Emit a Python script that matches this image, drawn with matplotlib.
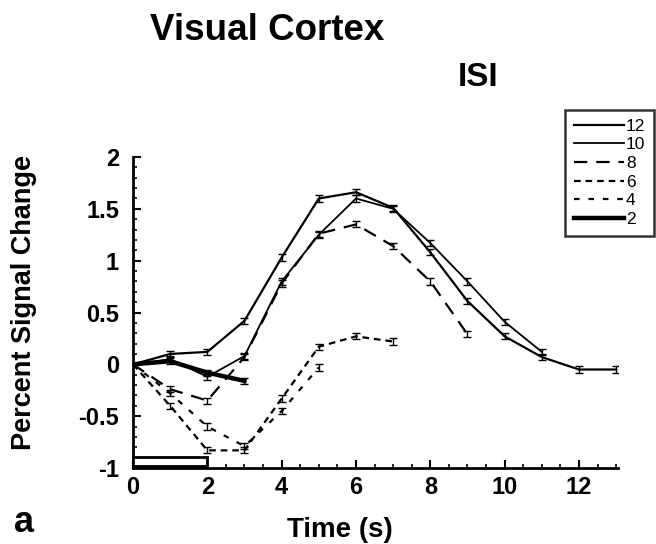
import matplotlib
matplotlib.use("Agg")
import matplotlib.pyplot as plt
from matplotlib.patches import Rectangle
from matplotlib.lines import Line2D
import numpy as np

plt.rcParams['font.family'] = ['Liberation Sans', 'DejaVu Sans']

# ---- data ----
isi_labels = ["12", "10", "8", "6", "4", "2"]
t12 = list(range(0, 14))
isi12 = [0.0, 0.10, 0.12, 0.42, 1.03, 1.60, 1.66, 1.51, 1.08, 0.61, 0.27, 0.07, -0.05, -0.05]
t10 = list(range(0, 12))
isi10 = [0.0, 0.05, -0.12, 0.08, 0.80, 1.25, 1.60, 1.50, 1.17, 0.80, 0.41, 0.12]
t8 = list(range(0, 10))
isi8 = [0.0, -0.24, -0.35, 0.07, 0.78, 1.26, 1.35, 1.14, 0.80, 0.29]
t6 = list(range(0, 8))
isi6 = [0.0, -0.40, -0.83, -0.83, -0.33, 0.17, 0.27, 0.22]
t4 = list(range(0, 6))
isi4 = [0.0, -0.28, -0.60, -0.79, -0.45, -0.03]
t2 = list(range(0, 4))
isi2 = [0.0, 0.03, -0.08, -0.16]
err = 0.03

styles = [
    dict(lw=1.6, ls='-'),
    dict(lw=1.3, ls='-'),
    dict(lw=1.6, ls=(0, (6, 4))),
    dict(lw=1.6, ls=(0, (3, 2.2))),
    dict(lw=1.6, ls=(0, (2.5, 4))),
    dict(lw=3.2, ls='-'),
]
series = [(t12, isi12), (t10, isi10), (t8, isi8), (t6, isi6), (t4, isi4), (t2, isi2)]

fig = plt.figure(figsize=(6.56, 5.44), dpi=100)
ax = fig.add_axes([133/656, 1-468/544, (618-133)/656, (468-157)/544])

handles = []
for (t, y), st, lab in zip(series, styles, isi_labels):
    yerr = [0] + [err] * (len(y) - 1)
    ax.errorbar(t, y, yerr=yerr, color='black', capsize=3, elinewidth=1.0,
                capthick=1.0, **st)
    handles.append(Line2D([], [], color='black', label=lab, **st))

# stimulus bar
ax.add_patch(Rectangle((0, -0.985), 2, 0.095, facecolor='white', edgecolor='black', lw=2.0,
                       clip_on=False, zorder=3))

ax.set_xlim(0, 13.05)
ax.set_ylim(-1, 2)
ax.set_xticks([0, 2, 4, 6, 8, 10, 12])
ax.set_xticks(np.arange(0, 13.01, 0.5), minor=True)
ax.set_yticks([-1, -0.5, 0, 0.5, 1, 1.5, 2])
ax.set_yticklabels(["-1", "-0.5", "0", "0.5", "1", "1.5", "2"])
ax.set_yticks(np.arange(-1, 2.001, 0.1), minor=True)
for s in ['top', 'right']:
    ax.spines[s].set_visible(False)
for s in ['left', 'bottom']:
    ax.spines[s].set_linewidth(2.0)
ax.tick_params(which='major', direction='in', length=6, width=1.5, labelsize=17)
ax.tick_params(which='minor', direction='in', length=3, width=1.2)
ax.tick_params(axis='y', which='major', pad=10)
ax.tick_params(axis='x', which='major', pad=6)
for lbl in ax.get_xticklabels() + ax.get_yticklabels():
    lbl.set_fontweight('bold')

fig.text(340/656, 1-530/544, "Time (s)", fontsize=20, fontweight='bold',
         ha='center', va='center')
fig.text(24/656, 1-303/544, "Percent Signal Change", rotation=90, fontsize=19.5,
         fontweight='bold', ha='center', va='center')

fig.text(267/656, 1-30/544, "Visual Cortex", fontsize=26.5, fontweight='bold',
         ha='center', va='center')
fig.text(478/656, 1-77/544, "ISI", fontsize=24, fontweight='bold', ha='center', va='center')
fig.text(14/656, 1-522/544, "a", fontsize=26, fontweight='bold', ha='left', va='center')

leg = ax.legend(handles=handles, loc='upper left', bbox_to_anchor=(565/656, 1-110/544),
                bbox_transform=fig.transFigure, frameon=True, fancybox=False,
                edgecolor='black', handlelength=2.9, handletextpad=0.1,
                labelspacing=0.2, borderpad=0.5, borderaxespad=0,
                prop={'size': 12.5})
leg.get_frame().set_linewidth(1.8)

fig.savefig("out.png", dpi=100)
